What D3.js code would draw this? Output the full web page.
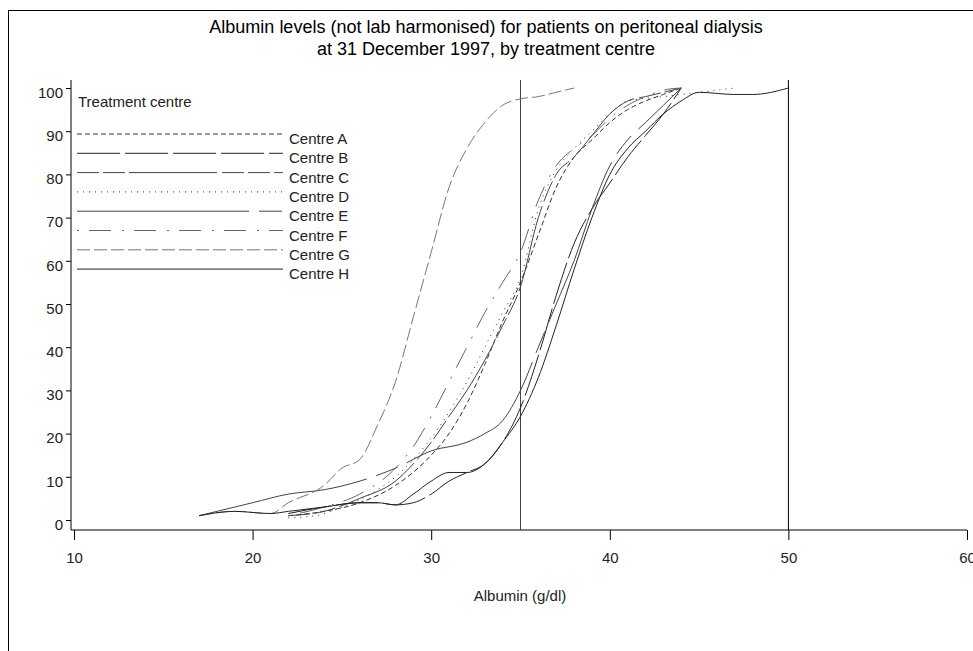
<!DOCTYPE html>
<html>
<head>
<meta charset="utf-8">
<script src="https://cdn.jsdelivr.net/npm/d3@7"></script>
<style>
  html, body { margin: 0; padding: 0; background: #fff; }
  svg { display: block; font-family: "Liberation Sans", Arial, sans-serif; }
</style>
</head>
<body>
<svg id="chart" width="973" height="651"></svg>
<script>
// Cumulative percentage of patients by serum albumin, one curve per centre
const centres = ["Centre A", "Centre B", "Centre C", "Centre D", "Centre E", "Centre F", "Centre G", "Centre H"];

const centreA = [[22,1],[24,2],[26,4],[28,8],[30,15],[31,20],[32,27],[33,36],[34,46],[35,55],[36,66],[37,77],[38,84],[39,88],[40,92],[41,95],[42,97],[43,98.5],[44,100]];
const centreB = [[22,1.5],[24,3],[26,4],[27,4],[28,3.5],[29,4],[30,6],[31,9],[32,11],[33,13],[34,18],[35,26],[36,38],[37,52],[38,64],[39,72],[40,78],[41,84],[42,89],[43,94],[44,100]];
const centreC = [[22,1],[24,2],[26,5],[28,9],[29,13],[30,18],[31,24],[32,30],[33,37],[34,45],[35,54],[36,70],[37,80],[38,84],[39,89],[40,94],[41,97],[42,98],[44,100]];
const centreD = [[22,0.5],[23.5,1],[25,3],[27,7],[28,10],[29,14],[30,19],[31,25],[32,32],[33,40],[34,48],[35,56],[36,72],[37,81],[38,86],[39,90],[40,94],[41,97],[43,98],[45,99],[47,100]];
const centreE = [[17,1],[20,4],[22,6],[24,7],[26,9],[28,12],[30,16],[32,18],[33,20],[34,23],[35,30],[36,40],[37,50],[38,60],[39,72],[40,82],[41,88],[42,92],[43,96],[44,100]];
const centreF = [[22,1],[24,3],[26,6],[28,12],[29,17],[30,24],[31,32],[32,40],[33,48],[34,55],[35,62],[36,74],[37,82],[38,86],[39,89],[40,93],[41,96],[42,98],[43,99.5],[44,100]];
const centreG = [[17,1],[19,2],[21,1.5],[22,4],[24,8],[25,12],[26,14],[27,22],[28,32],[29,47],[30,62],[31,77],[32,86],[33,92],[34,96],[35,97.5],[36,98],[37,99],[38,100]];
const centreH = [[17,1],[19,2],[21,1.5],[22,2],[24,3],[26,4],[27,4],[28,3.5],[29,6],[30,9],[31,11],[32,11],[33,13],[34,18],[35,24],[36,33],[37,45],[38,58],[39,70],[40,80],[41,86],[42,90],[43,94],[44,97],[45,99],[47,98.5],[48,98.5],[50,100]];

const seriesValues = [centreA, centreB, centreC, centreD, centreE, centreF, centreG, centreH];

const xTicks = [10, 20, 30, 40, 50, 60];
const yTicks = [0, 10, 20, 30, 40, 50, 60, 70, 80, 90, 100];
const refLines = [35, 50];

// line styles for each centre
const dashes = ["5,3", "43,5", "22,4,22,4,88,5", "1,5", "172,10,23,10", "2,10,22,11", "13,4", null];
const strokes = ["#333", "#222", "#444", "#333", "#444", "#666", "#777", "#222"];

const svg = d3.select("#chart");

// outer frame (left and top edges fall inside the page)
svg.append("rect")
  .attr("x", 8.5).attr("y", 10.5)
  .attr("width", 1000).attr("height", 700)
  .attr("fill", "none").attr("stroke", "#000").attr("stroke-width", 1);

// title
const title = svg.append("text")
  .attr("text-anchor", "middle")
  .attr("font-size", 18)
  .attr("fill", "#000");
title.append("tspan").attr("x", 486).attr("y", 33)
  .text("Albumin levels (not lab harmonised) for patients on peritoneal dialysis");
title.append("tspan").attr("x", 486).attr("y", 55)
  .text("at 31 December 1997, by treatment centre");

const x = d3.scaleLinear().domain([10, 60]).range([74, 967]);
const y = d3.scaleLinear().domain([0, 100]).range([520, 88]);

// x axis
const xAxis = svg.append("g").attr("transform", "translate(0,530)")
  .call(d3.axisBottom(x).tickValues(xTicks).tickSize(10).tickPadding(12).tickFormat(d3.format("d")));
xAxis.select(".domain").attr("d", "M71,0H967").attr("stroke", "#808080").attr("stroke-width", 2);
xAxis.selectAll(".tick line").attr("stroke", "#000");
xAxis.selectAll(".tick text").attr("font-size", 15).attr("font-family", "Liberation Sans, Arial, sans-serif").attr("fill", "#222");

// y axis
const yAxis = svg.append("g").attr("transform", "translate(71,0)")
  .call(d3.axisLeft(y).tickValues(yTicks).tickSize(5).tickPadding(3).tickFormat(d3.format("d")));
yAxis.select(".domain").attr("d", "M0,80V530").attr("stroke", "#000");
yAxis.selectAll(".tick text").attr("font-size", 15).attr("font-family", "Liberation Sans, Arial, sans-serif").attr("fill", "#222").attr("dy", "0.62em");

// x axis title
svg.append("text")
  .attr("x", 520).attr("y", 601)
  .attr("text-anchor", "middle")
  .attr("font-size", 15).attr("fill", "#222")
  .text("Albumin (g/dl)");

// reference lines
svg.selectAll("line.ref").data(refLines).join("line")
  .attr("class", "ref")
  .attr("x1", d => x(d)).attr("x2", d => x(d))
  .attr("y1", 80).attr("y2", 530)
  .attr("stroke", (d, i) => i === 0 ? "#444" : "#000").attr("stroke-width", 1);

// curves
const line = d3.line().x(d => x(d[0])).y(d => y(d[1])).curve(d3.curveMonotoneX);
svg.append("g").selectAll("path").data(seriesValues).join("path")
  .attr("d", line)
  .attr("fill", "none")
  .attr("stroke", (d, i) => strokes[i])
  .attr("stroke-width", 1)
  .attr("stroke-dasharray", (d, i) => dashes[i]);

// legend
const legend = svg.append("g").attr("font-size", 15).attr("fill", "#222");
legend.append("text").attr("x", 78).attr("y", 107).text("Treatment centre");
const rowY = i => 134 + i * 19.3;
legend.selectAll("line").data(centres).join("line")
  .attr("x1", 77).attr("x2", 283)
  .attr("y1", (d, i) => rowY(i)).attr("y2", (d, i) => rowY(i))
  .attr("stroke", (d, i) => strokes[i])
  .attr("stroke-width", 1)
  .attr("stroke-dasharray", (d, i) => dashes[i]);
legend.selectAll("text.lab").data(centres).join("text")
  .attr("class", "lab")
  .attr("x", 289).attr("y", (d, i) => rowY(i) + 10)
  .text(d => d);
</script>
</body>
</html>
